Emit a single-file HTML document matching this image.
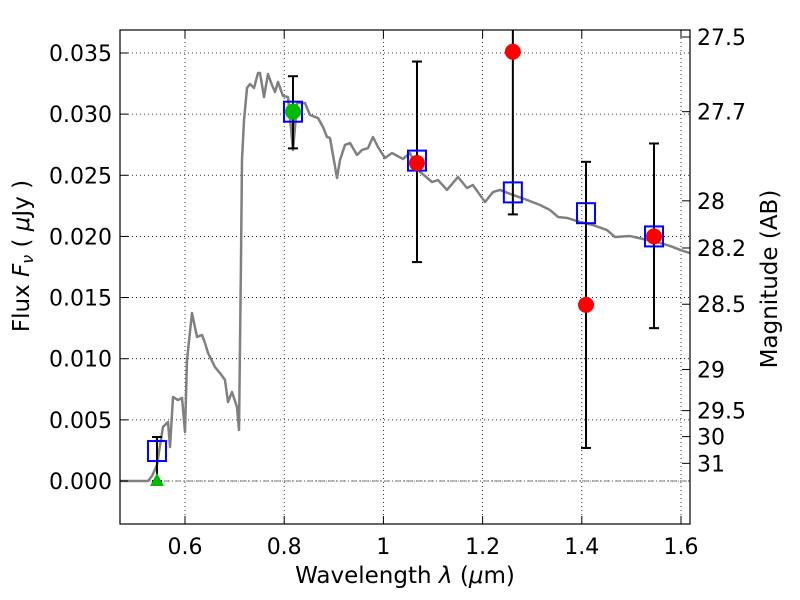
<!DOCTYPE html>
<html><head><meta charset="utf-8"><style>
body{margin:0;background:#fff}
svg{display:block;font-family:"DejaVu Sans","Liberation Sans",sans-serif}
</style></head><body>
<svg id="c" width="800" height="600"></svg>
<script>
const specLam=[0.469,0.5254,0.5335,0.5435,0.5556,0.5657,0.5698,0.5758,0.5859,0.594,0.6,0.604,0.6141,0.6242,0.6343,0.6403,0.6464,0.6605,0.6706,0.6806,0.6867,0.6948,0.7048,0.7089,0.7129,0.7149,0.719,0.725,0.731,0.7391,0.7472,0.7512,0.7593,0.7673,0.7754,0.7815,0.7875,0.7976,0.8077,0.8177,0.8218,0.8258,0.8419,0.852,0.8681,0.8782,0.8863,0.8923,0.9065,0.9125,0.9226,0.9327,0.9468,0.9569,0.969,0.979,0.9891,1.0032,1.0173,1.0395,1.0536,1.0698,1.098,1.1101,1.1282,1.1504,1.1685,1.1806,1.2048,1.221,1.2351,1.2613,1.2895,1.3157,1.3359,1.352,1.3702,1.3964,1.4226,1.4508,1.4669,1.4972,1.5234,1.5516,1.5778,1.604,1.6181];
const specFlux=[0,0,0.00041,0.00131,0.00442,0.00482,0.00278,0.00687,0.00662,0.00679,0.00401,0.00989,0.01374,0.01178,0.01194,0.01128,0.01047,0.00932,0.00883,0.00826,0.00646,0.00728,0.00605,0.00417,0.01807,0.02625,0.02952,0.03214,0.03246,0.03214,0.03336,0.03336,0.0314,0.03328,0.03238,0.03181,0.03263,0.03148,0.0314,0.02707,0.02895,0.03091,0.03091,0.02993,0.02968,0.02895,0.02813,0.02805,0.02478,0.02625,0.02748,0.02764,0.02666,0.02707,0.02723,0.02813,0.02731,0.02641,0.02682,0.02633,0.02682,0.02543,0.02445,0.02461,0.0238,0.02486,0.02396,0.0242,0.02281,0.02363,0.0238,0.02339,0.02298,0.02257,0.02216,0.02159,0.02151,0.02118,0.02093,0.02052,0.01995,0.02003,0.01979,0.01954,0.01922,0.01881,0.01864];
const bandLam=[0.5435,0.8177,1.0677,1.261,1.4085,1.5456];
const modelFlux=[0.00245,0.0302,0.0262,0.0236,0.0219,0.0200];
const obsLam=[1.0677,1.261,1.4085,1.5456];
const obsFlux=[0.0260,0.0351,0.0144,0.0200];
const errLo=[0,0.0272,0.0179,0.0218,0.0027,0.0125];
const errHi=[0.0036,0.0331,0.0343,0.0484,0.0261,0.0276];
const greenCircLam=[0.8177], greenCircFlux=[0.0302];
const greenTriLam=[0.5435], greenTriFlux=[0];
const xTicks=[0.6,0.8,1.0,1.2,1.4,1.6], xTickLabels=["0.6","0.8","1","1.2","1.4","1.6"];
const yTicks=[0,0.005,0.01,0.015,0.02,0.025,0.03,0.035];
const yTickLabels=["0.000","0.005","0.010","0.015","0.020","0.025","0.030","0.035"];
const magTicks=[27.5,27.7,28,28.2,28.5,29,29.5,30,31];
const magLabels=["27.5","27.7","28","28.2","28.5","29","29.5","30","31"];

const L=120,R=690,T=30,B=524;
const X=v=>185+(v-0.6)*496;
const Y=v=>481-v*12229;
const svg=document.getElementById('c');
const NS='http://www.w3.org/2000/svg';
function mk(tag,at,parent){const e=document.createElementNS(NS,tag);for(const k in at)e.setAttribute(k,at[k]);(parent||svg).appendChild(e);return e;}
const defs=mk('clipPath',{id:'clip'});mk('rect',{x:L,y:T,width:R-L,height:B-T},defs);

xTicks.forEach(v=>{const g=mk('line',{x1:X(v),x2:X(v),y1:T,y2:B,stroke:'#000','stroke-width':0.8,'stroke-dasharray':'1,3'});

});
yTicks.forEach(v=>{const g=mk('line',{x1:L,x2:R,y1:Y(v),y2:Y(v),stroke:'#000','stroke-width':0.8,'stroke-dasharray':'1,3'});

});
const zl=mk('line',{x1:L,x2:R,y1:Y(0),y2:Y(0),stroke:'#555','stroke-width':0.8,'stroke-dasharray':'6,2,1,2'});



const cg=mk('g',{'clip-path':'url(#clip)'});
const sp=mk('polyline',{points:specLam.map((l,i)=>X(l)+','+Y(specFlux[i])).join(' '),fill:'none',stroke:'#808080','stroke-width':2.5,'stroke-linejoin':'round'},cg);



bandLam.forEach((l,i)=>{const x=X(l);
const e=mk('line',{x1:x,x2:x,y1:Y(errLo[i]),y2:Y(errHi[i]),stroke:'#000','stroke-width':2},cg);


[errLo[i],errHi[i]].forEach(v=>{const c=mk('line',{x1:x-5,x2:x+5,y1:Y(v),y2:Y(v),stroke:'#000','stroke-width':2},cg);

});});

greenTriLam.forEach((l,i)=>{const x=X(l),y=Y(greenTriFlux[i]);
const t=mk('polygon',{points:`${x},${y-8} ${x-7},${y+5} ${x+7},${y+5}`,fill:'#00bb00'},cg);

});
bandLam.forEach((l,i)=>{const s=mk('rect',{x:X(l)-9,y:Y(modelFlux[i])-10,width:18,height:20,fill:'none',stroke:'#0000ff','stroke-width':2},cg);

});
greenCircLam.forEach((l,i)=>{const c=mk('circle',{cx:X(l),cy:Y(greenCircFlux[i]),r:8,fill:'#00bb00'},cg);

});
obsLam.forEach((l,i)=>{const c=mk('circle',{cx:X(l),cy:Y(obsFlux[i]),r:8,fill:'#ff0000'},cg);

});

const fr=mk('rect',{x:L,y:T,width:R-L,height:B-T,fill:'none',stroke:'#000','stroke-width':1.2});



xTicks.forEach((v,i)=>{const x=X(v);
mk('line',{x1:x,x2:x,y1:B,y2:B-8,stroke:'#000'});mk('line',{x1:x,x2:x,y1:T,y2:T+8,stroke:'#000'});
const t=mk('text',{x:x,y:B+30,'text-anchor':'middle','font-size':22});t.textContent=xTickLabels[i];

});
yTicks.forEach((v,i)=>{const y=Y(v);
mk('line',{x1:L,x2:L+8,y1:y,y2:y,stroke:'#000'});
const t=mk('text',{x:L-8,y:y+8,'text-anchor':'end','font-size':22});t.textContent=yTickLabels[i];

});
magTicks.forEach((m,i)=>{const y=Y(Math.pow(10,(23.9-m)/2.5));
mk('line',{x1:R,x2:R-8,y1:y,y2:y,stroke:'#000'});
const t=mk('text',{x:R+7,y:y+8,'font-size':22});t.textContent=magLabels[i];

});
</script>
<svg width="800" height="600" style="position:absolute;left:0;top:0;font-family:'DejaVu Sans','Liberation Sans',sans-serif">
<text x="405" y="583" text-anchor="middle" font-size="23">Wavelength  <tspan font-style="italic">λ</tspan> (<tspan font-style="italic">μ</tspan>m)</text>
<text transform="translate(29,256) rotate(-90)" text-anchor="middle" font-size="23">Flux  <tspan font-style="italic">F</tspan><tspan font-style="italic" font-size="16" dy="4">ν</tspan><tspan dy="-4">   ( </tspan><tspan font-style="italic">μ</tspan>Jy )</text>
<text transform="translate(777,279) rotate(-90)" text-anchor="middle" font-size="23">Magnitude (AB)</text>
</svg>
</body></html>
